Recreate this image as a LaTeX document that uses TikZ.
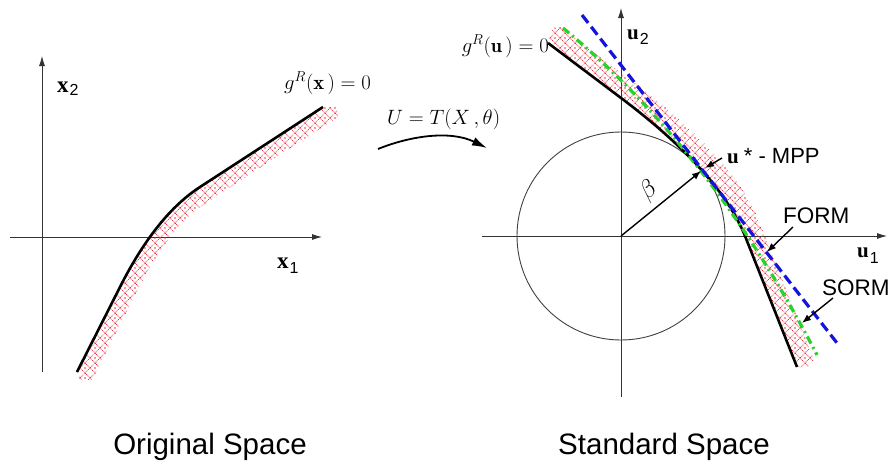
\documentclass[tikz,border=0pt]{standalone}
\usepackage{fontspec}
\newfontfamily\arial{Liberation Sans}
\newfontfamily\tms{Liberation Serif}
\usetikzlibrary{arrows.meta,patterns}
\definecolor{hatchred}{RGB}{240,50,65}
\definecolor{formblue}{RGB}{20,20,220}
\definecolor{sormgreen}{RGB}{40,210,40}
\newcommand\setfs[1]{\fontsize{#1}{#1}\selectfont}
\pgfdeclarepatternformonly{diadots}{\pgfqpoint{-0.5pt}{-0.5pt}}{\pgfqpoint{10.5pt}{10.5pt}}{\pgfqpoint{10pt}{10pt}}{%
  \pgfsetlinewidth{0.9pt}%
  \pgfsetroundcap
  \pgfsetdash{{0.3pt}{1.4pt}}{0pt}%
  \pgfpathmoveto{\pgfqpoint{0pt}{5pt}}%
  \pgfpathlineto{\pgfqpoint{5pt}{0pt}}%
  \pgfpathlineto{\pgfqpoint{10pt}{5pt}}%
  \pgfpathlineto{\pgfqpoint{5pt}{10pt}}%
  \pgfpathclose
  \pgfusepath{stroke}%
  \pgfpathcircle{\pgfqpoint{5pt}{5pt}}{0.8pt}%
  \pgfusepath{fill}%
}
\begin{document}
\begin{tikzpicture}[x=1pt,y=-1pt,
  axis/.style={line width=0.9pt, draw=black!80, -{Latex[length=10pt,width=6pt]}},
  gcurve/.style={line width=2.6pt, draw=black},
  band/.style={pattern=diadots, pattern color=hatchred},
  form/.style={draw=formblue, line width=3.2pt, dash pattern=on 10pt off 5pt},
  sorm/.style={draw=sormgreen, line width=3.2pt, dash pattern=on 8pt off 4pt on 2pt off 4pt},
  ptr/.style={line width=1.4pt, -{Latex[length=9pt,width=7pt]}},
  lbl/.style={inner sep=0pt, anchor=base west},
]
\useasboundingbox (0,0) rectangle (888,463);

% ---------- left panel ----------
\coordinate (x2s) at (42,372); \coordinate (x2e) at (42,56);
\coordinate (x1s) at (10,237); \coordinate (x1e) at (322,237);
\draw[axis] (x2s) -- (x2e);
\draw[axis] (x1s) -- (x1e);

\fill[band] (77,372) -- (120,287) .. controls (144,239.4) and (170.7,206) .. (200,187) -- (323,107)
  -- (337,107) -- (338,117) -- (209,201) .. controls (180,220) and (159,247) .. (135,295)
  -- (92,380) -- (80,380) -- cycle;
\draw[gcurve] (77,372) -- (120,287) .. controls (144,239.4) and (170.7,206) .. (200,187) -- (323,107);

\node[lbl] (lx2) at (57,92) {\tms\bfseries\setfs{23}x\kern1pt\raisebox{-3pt}{\arial\mdseries\setfs{16}2}};
\node[lbl] (lx1) at (277,268) {\tms\bfseries\setfs{23}x\kern1pt\raisebox{-5pt}{\arial\mdseries\setfs{16}1}};
\node[lbl] (gx) at (284,89) {\setfs{20.5}$g^R(\mathbf{x}\,)=0$};

% ---------- transformation ----------
\node[lbl] (tlab) at (387,124) {\setfs{20}$U=T(X\,,\theta)$};
\coordinate (ts) at (378,149); \coordinate (te) at (487,148);
\draw[line width=1.8pt, -{Latex[length=15pt,width=9pt]}] (ts) .. controls (410,136) and (450,130) .. (te);

% ---------- right panel ----------
\coordinate (O) at (621,236);
\draw[line width=0.9pt, draw=black!75] (O) circle[radius=104pt];
\coordinate (u2s) at (621,397); \coordinate (u2e) at (621,8);
\coordinate (u1s) at (482,236); \coordinate (u1e) at (887,236);
\draw[axis] (u2s) -- (u2e);
\draw[axis] (u1s) -- (u1e);

\fill[band] (548,43) -- (625,101) .. controls (688,149) and (728,194) .. (745,236) -- (797,367)
  -- (808,367) -- (814,360) -- (762,229) .. controls (747,184) and (702,134) .. (637,85)
  -- (560,27) -- (553,28) -- cycle;
\draw[gcurve] (548,43) -- (625,101) .. controls (688,149) and (728,194) .. (745,236) -- (797,367);
\draw[sorm] (563,28) .. controls (661,108.3) and (745.7,217.3) .. (817,355);
\draw[form] (582,15) -- (837,343);

\coordinate (mpp) at (701,171);
\draw[ptr] (O) -- (mpp);
\node[rotate=40, inner sep=0pt] (blab) at (649,191) {\setfs{23}$\beta$};

\node[lbl, anchor=base east] (gu) at (549,52) {\setfs{20}$g^R(\mathbf{u}\,)=0$};
\node[lbl] (lu2) at (627,39) {\tms\bfseries\setfs{21}u\kern1pt\raisebox{-5pt}{\arial\mdseries\setfs{16}2}};
\node[lbl] (lu1) at (857,257) {\tms\bfseries\setfs{21}u\kern1pt\raisebox{-6pt}{\arial\mdseries\setfs{16}1}};

\node[lbl] (mlab) at (727,163) {{\tms\bfseries\setfs{21}u}\kern5pt{\arial\setfs{22}* - MPP}};
\coordinate (ma) at (722,158); \coordinate (mb) at (705,168);
\draw[ptr] (ma) -- (mb);

\node[lbl] (flab) at (783,223) {\arial\setfs{22.5}FORM};
\coordinate (fa) at (793,227); \coordinate (fb) at (767,252);
\draw[ptr] (fa) -- (fb);

\node[lbl] (slab) at (822,295) {\arial\setfs{22.5}SORM};
\coordinate (sa) at (833,298); \coordinate (sb) at (802,323);
\draw[ptr] (sa) -- (sb);

% ---------- titles ----------
\node[inner sep=0pt, anchor=base] (t1) at (210,454) {\arial\setfs{29.5}Original Space};
\node[inner sep=0pt, anchor=base] (t2) at (664,454) {\arial\setfs{29.5}Standard Space};
\end{tikzpicture}
\end{document}
